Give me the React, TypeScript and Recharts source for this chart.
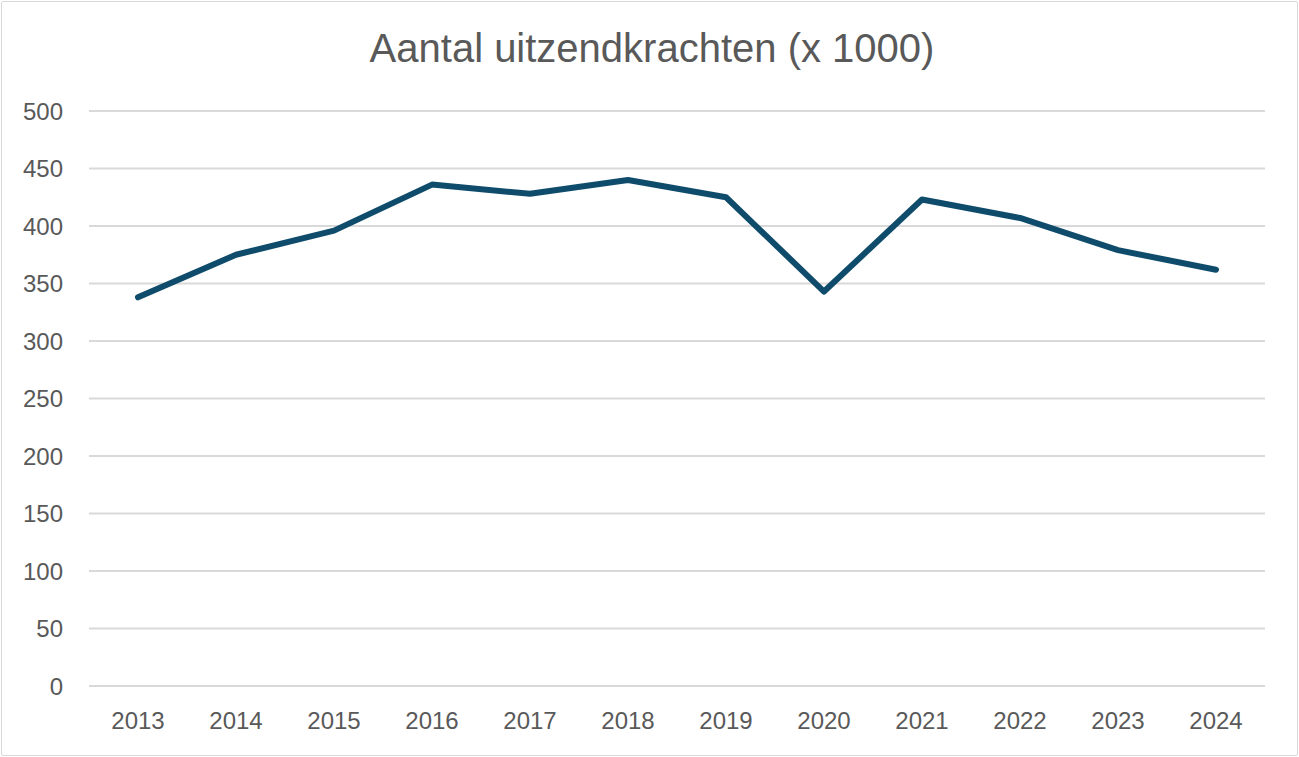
import { LineChart, Line, XAxis, YAxis, CartesianGrid } from "recharts";

const years = ["2013", "2014", "2015", "2016", "2017", "2018", "2019", "2020", "2021", "2022", "2023", "2024"];
const uitzendkrachten = [338, 375, 396, 436, 428, 440, 425, 343, 423, 407, 379, 362];
const yTicks = [0, 50, 100, 150, 200, 250, 300, 350, 400, 450, 500];

const data = years.map((year, i) => ({ year, value: uitzendkrachten[i] }));

const font = "'Liberation Sans', Arial, sans-serif";
const textColor = "#595959";

const App = () => {
  return (
    <div style={{ position: "fixed", left: 0, top: 0, width: 1299, height: 757, background: "#fff" }}>
      <div
        style={{
          position: "absolute",
          left: 1,
          top: 1,
          width: 1295,
          height: 753,
          border: "1px solid #d9d9d9",
          borderRadius: 2,
        }}
      />
      <LineChart
        width={1299}
        height={757}
        data={data}
        margin={{ top: 111, right: 34, bottom: 31, left: 0 }}
        style={{ position: "absolute", left: 0, top: 0, fontFamily: font }}
      >
        <text
          x={652}
          y={62}
          textAnchor="middle"
          fontSize={40}
          fill={textColor}
          fontFamily={font}
        >
          Aantal uitzendkrachten (x 1000)
        </text>
        <CartesianGrid vertical={false} stroke="#d9d9d9" strokeWidth={2} />
        <XAxis
          dataKey="year"
          height={40}
          axisLine={false}
          tickLine={false}
          tickSize={0}
          tickMargin={26}
          padding={{ left: 49, right: 49 }}
          tick={{ fill: textColor, fontSize: 24, fontFamily: font }}
        />
        <YAxis
          width={89}
          domain={[0, 500]}
          ticks={yTicks}
          axisLine={false}
          tickLine={false}
          tickSize={0}
          tickMargin={26}
          tick={{ fill: textColor, fontSize: 24, fontFamily: font }}
        />
        <Line
          type="linear"
          dataKey="value"
          stroke="#0f4c6c"
          strokeWidth={6}
          strokeLinecap="round"
          strokeLinejoin="round"
          dot={false}
          activeDot={false}
          isAnimationActive={false}
        />
      </LineChart>
    </div>
  );
};

export default App;
